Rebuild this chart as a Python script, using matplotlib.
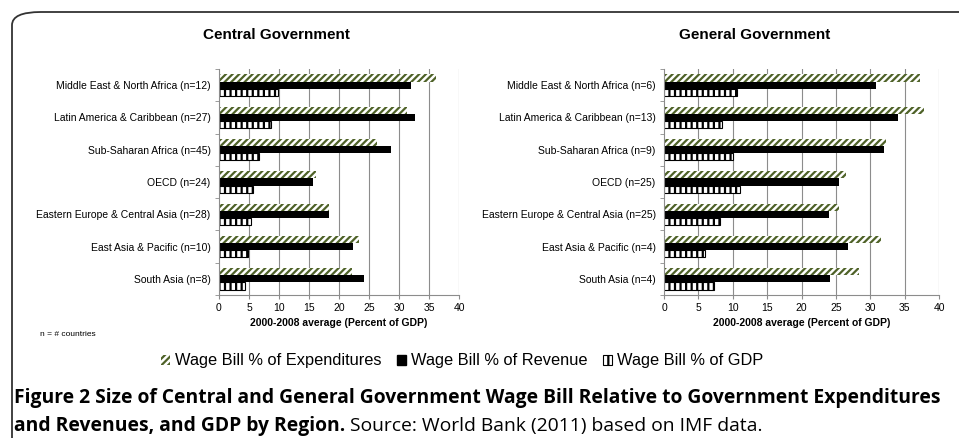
import matplotlib
matplotlib.use("Agg")
import matplotlib.pyplot as plt
import numpy as np
from matplotlib.patches import FancyBboxPatch, Rectangle

central_regions = ["Middle East & North Africa (n=12)", "Latin America & Caribbean (n=27)",
                   "Sub-Saharan Africa (n=45)", "OECD (n=24)",
                   "Eastern Europe & Central Asia (n=28)", "East Asia & Pacific (n=10)",
                   "South Asia (n=8)"]
central_expend = [36.1, 31.4, 26.4, 16.1, 18.3, 23.3, 22.2]
central_revenue = [32.0, 32.6, 28.7, 15.6, 18.4, 22.4, 24.2]
central_gdp = [9.8, 8.7, 6.6, 5.7, 5.3, 4.9, 4.4]

general_regions = ["Middle East & North Africa (n=6)", "Latin America & Caribbean (n=13)",
                   "Sub-Saharan Africa (n=9)", "OECD (n=25)",
                   "Eastern Europe & Central Asia (n=25)", "East Asia & Pacific (n=4)",
                   "South Asia (n=4)"]
general_expend = [37.3, 37.8, 32.3, 26.4, 25.4, 31.6, 28.3]
general_revenue = [30.8, 34.0, 32.0, 25.5, 24.0, 26.7, 24.2]
general_gdp = [10.6, 8.5, 10.1, 11.1, 8.1, 6.0, 7.2]

x_ticks = [0, 5, 10, 15, 20, 25, 30, 35, 40]
series_labels = ["Wage Bill % of Expenditures", "Wage Bill % of Revenue", "Wage Bill % of GDP"]

W, H = 959, 438
plt.rcParams['font.family'] = ['Liberation Sans', 'DejaVu Sans']
plt.rcParams['hatch.linewidth'] = 1.6
fig = plt.figure(figsize=(W / 100, H / 100), dpi=100)

OLIVE = "#4f6228"
GRID = "#8c8c8c"


def px_axes(x0, y0, x1, y1):
    return fig.add_axes([x0 / W, 1 - y1 / H, (x1 - x0) / W, (y1 - y0) / H])


def panel(ax, regions, expend, revenue, gdp, title, title_x):
    n = len(regions)
    y = np.arange(n)
    h = 0.22
    ax.barh(y - h, expend, height=h, color="white", edgecolor=OLIVE, hatch="/////", linewidth=0)
    ax.barh(y, revenue, height=h, color="black", edgecolor="black", linewidth=0)
    ax.barh(y + h, gdp, height=h, color="white", edgecolor="black", hatch="|||", linewidth=0.8)
    ax.set_ylim(n - 0.5, -0.5)
    ax.set_xlim(0, 40)
    ax.set_xticks(x_ticks)
    ax.set_xticklabels([str(t) for t in x_ticks], fontsize=7.5)
    ax.set_yticks(y)
    ax.set_yticklabels(regions, fontsize=7.5)
    ax.set_yticks(np.arange(n + 1) - 0.5, minor=True)
    ax.tick_params(axis="y", which="major", length=0, pad=6)
    ax.tick_params(axis="y", which="minor", length=3, color=GRID, direction="out")
    ax.tick_params(axis="x", length=3, color=GRID, pad=3)
    for x in x_ticks[1:]:
        ax.axvline(x, color=GRID, linewidth=0.8, zorder=0)
    for s in ["top", "right"]:
        ax.spines[s].set_visible(False)
    ax.spines["left"].set_color(GRID)
    ax.spines["bottom"].set_color(GRID)
    ax.set_xlabel("2000-2008 average (Percent of GDP)", fontsize=7.5, fontweight="bold", labelpad=3)
    fig.text(title_x / W, 1 - 35 / H, title, fontsize=11, fontweight="bold", ha="center", va="center")


ax1 = px_axes(219, 69, 459, 295)
panel(ax1, central_regions, central_expend, central_revenue, central_gdp, "Central Government", 276)
ax2 = px_axes(664, 69, 939, 295)
panel(ax2, general_regions, general_expend, general_revenue, general_gdp, "General Government", 755)

fig.text(40 / W, 1 - 335 / H, "n = # countries", fontsize=6, ha="left", va="center")

# legend
handles = [Rectangle((0, 0), 1, 1, facecolor="white", edgecolor=OLIVE, hatch="/////", linewidth=0),
           Rectangle((0, 0), 1, 1, facecolor="black", edgecolor="black"),
           Rectangle((0, 0), 1, 1, facecolor="white", edgecolor="black", hatch="|||", linewidth=0.8)]
fig.legend(handles, series_labels, loc="center", bbox_to_anchor=(462 / W, 1 - 361 / H),
           ncol=3, frameon=False, handlelength=0.6, handleheight=0.6,
           handletextpad=0.3, columnspacing=0.9, borderpad=0,
           prop={"family": ["Liberation Sans", "DejaVu Sans"], "size": 11.8})

# caption
cap_font = ["Open Sans", "DejaVu Sans"]
fig.text(14 / W, 1 - 403 / H,
         "Figure 2 Size of Central and General Government Wage Bill Relative to Government Expenditures",
         fontsize=13.9, fontweight="bold", family=cap_font, ha="left", va="baseline")
t1 = fig.text(14 / W, 1 - 431 / H, "and Revenues, and GDP by Region.",
              fontsize=13.9, fontweight="bold", family=cap_font, ha="left", va="baseline")
fig.canvas.draw()
bb = t1.get_window_extent()
fig.text((bb.x1 + 5) / W, 1 - 431 / H, "Source: World Bank (2011) based on IMF data.",
         fontsize=13.9, family=cap_font, ha="left", va="baseline")

# border box (rounded, cut off at right/bottom)
box = FancyBboxPatch((12 / W, -0.2), 1.2, (1 - 12 / H) + 0.2,
                     boxstyle="round,pad=0,rounding_size=0.03", transform=fig.transFigure,
                     facecolor="none", edgecolor="#333333", linewidth=1.3, clip_on=False)
fig.patches.append(box)

fig.savefig("out.png", dpi=100)
